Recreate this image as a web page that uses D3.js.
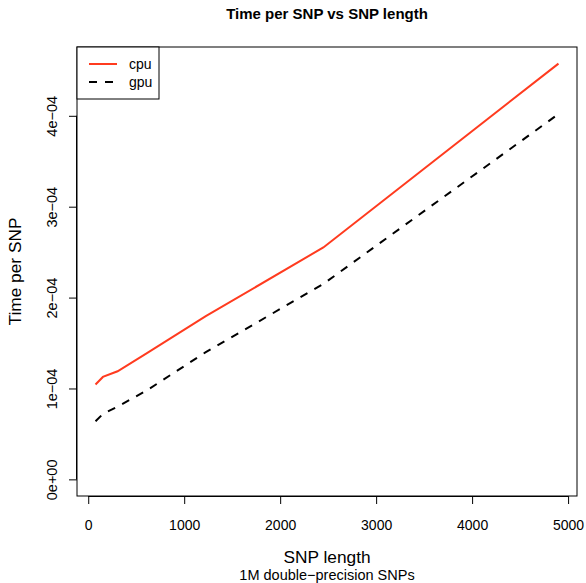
<!DOCTYPE html>
<html>
<head>
<meta charset="utf-8">
<script src="https://cdn.jsdelivr.net/npm/d3@7"></script>
<style>
  body { margin: 0; background: #fff; }
  text { font-family: "Liberation Sans", Arial, Helvetica, sans-serif; fill: #000; }
</style>
</head>
<body>
<div id="chart"></div>
<script>
// SNP length (x) and time per SNP for each device
var snpLength = [76, 153, 306, 612, 1225, 2450, 4900];
var cpuTime = [1.043e-4, 1.127e-4, 1.189e-4, 1.39e-4, 1.795e-4, 2.552e-4, 4.574e-4];
var gpuTime = [0.64e-4, 0.72e-4, 0.80e-4, 0.98e-4, 1.40e-4, 2.15e-4, 4.02e-4];
var xTicks = [0, 1000, 2000, 3000, 4000, 5000];
var yTicks = [0, 1e-4, 2e-4, 3e-4, 4e-4];
var yTickLabels = ["0e+00", "1e\u221204", "2e\u221204", "3e\u221204", "4e\u221204"];
var seriesNames = ["cpu", "gpu"];

const width = 586, height = 583;
const plot = { left: 77, right: 577, top: 47, bottom: 496 };

var svg = d3.select("#chart")
  .append("svg")
  .attr("width", width)
  .attr("height", height);

// R-style 4% padding on the data range
var xMin = d3.min(snpLength), xMax = d3.max(snpLength);
var xPad = (xMax - xMin) * 0.04;
var x = d3.scaleLinear()
  .domain([xMin - xPad, xMax + xPad])
  .range([plot.left, plot.right]);

var yMax = d3.max(cpuTime);
var yPad = yMax * 0.04;
var y = d3.scaleLinear()
  .domain([-yPad, yMax + yPad])
  .range([plot.bottom, plot.top]);

// box
svg.append("rect")
  .attr("x", plot.left)
  .attr("y", plot.top)
  .attr("width", plot.right - plot.left)
  .attr("height", plot.bottom - plot.top)
  .attr("fill", "none")
  .attr("stroke", "#000")
  .attr("stroke-width", 1);

// x axis
var xAxis = d3.axisBottom(x)
  .tickValues(xTicks)
  .tickSize(8)
  .tickSizeOuter(0)
  .tickPadding(16)
  .tickFormat(d3.format("d"));

var gx = svg.append("g")
  .attr("transform", `translate(0,${plot.bottom})`)
  .call(xAxis);
gx.select(".domain")
  .attr("d", `M${x(0)},0.5H${x(5000)}`);
gx.selectAll("text")
  .style("font-size", "14px")
  .style("font-family", "Liberation Sans, Arial, sans-serif");

// y axis
var yAxis = d3.axisLeft(y)
  .tickValues(yTicks)
  .tickSize(8)
  .tickSizeOuter(0)
  .tickFormat((d, i) => yTickLabels[i]);

var gy = svg.append("g")
  .attr("transform", `translate(${plot.left},0)`)
  .call(yAxis);
gy.select(".domain")
  .attr("d", `M-0.5,${y(0)}V${y(4e-4)}`);
gy.selectAll("text")
  .attr("x", null)
  .attr("dy", null)
  .attr("transform", "translate(-20,0) rotate(-90)")
  .attr("text-anchor", "middle")
  .style("font-size", "14.5px")
  .style("font-family", "Liberation Sans, Arial, sans-serif");

// lines
var line = d3.line()
  .x((d, i) => x(snpLength[i]))
  .y(d => y(d));

svg.append("path")
  .datum(cpuTime)
  .attr("d", line)
  .attr("fill", "none")
  .attr("stroke", "#ff3b1f")
  .attr("stroke-width", 2);

svg.append("path")
  .datum(gpuTime)
  .attr("d", line)
  .attr("fill", "none")
  .attr("stroke", "#000")
  .attr("stroke-width", 2)
  .attr("stroke-dasharray", "8,8");

// titles
svg.append("text")
  .attr("x", (plot.left + plot.right) / 2)
  .attr("y", 19)
  .attr("text-anchor", "middle")
  .style("font-size", "15px")
  .style("font-weight", "bold")
  .text("Time per SNP vs SNP length");

svg.append("text")
  .attr("x", (plot.left + plot.right) / 2)
  .attr("y", 563)
  .attr("text-anchor", "middle")
  .style("font-size", "17.3px")
  .text("SNP length");

svg.append("text")
  .attr("x", (plot.left + plot.right) / 2)
  .attr("y", 580)
  .attr("text-anchor", "middle")
  .style("font-size", "14.5px")
  .text("1M double\u2212precision SNPs");

svg.append("text")
  .attr("transform", `translate(21,${(plot.top + plot.bottom) / 2}) rotate(-90)`)
  .attr("text-anchor", "middle")
  .style("font-size", "17.3px")
  .text("Time per SNP");

// legend
var legend = svg.append("g")
  .attr("transform", `translate(${plot.left},${plot.top})`);

legend.append("rect")
  .attr("x", 0)
  .attr("y", 0)
  .attr("width", 82)
  .attr("height", 52)
  .attr("fill", "#fff")
  .attr("stroke", "#000");

var items = legend.selectAll(".legend")
  .data(seriesNames)
  .enter().append("g")
  .attr("class", "legend")
  .attr("transform", (d, i) => `translate(0,${17 + i * 18})`);

items.append("line")
  .attr("x1", 12)
  .attr("x2", 40)
  .attr("stroke", (d, i) => i === 0 ? "#ff3b1f" : "#000")
  .attr("stroke-width", 2)
  .attr("stroke-dasharray", (d, i) => i === 0 ? null : "8,8");

items.append("text")
  .attr("x", 52)
  .attr("dy", "0.35em")
  .style("font-size", "14px")
  .text(d => d);
</script>
</body>
</html>
